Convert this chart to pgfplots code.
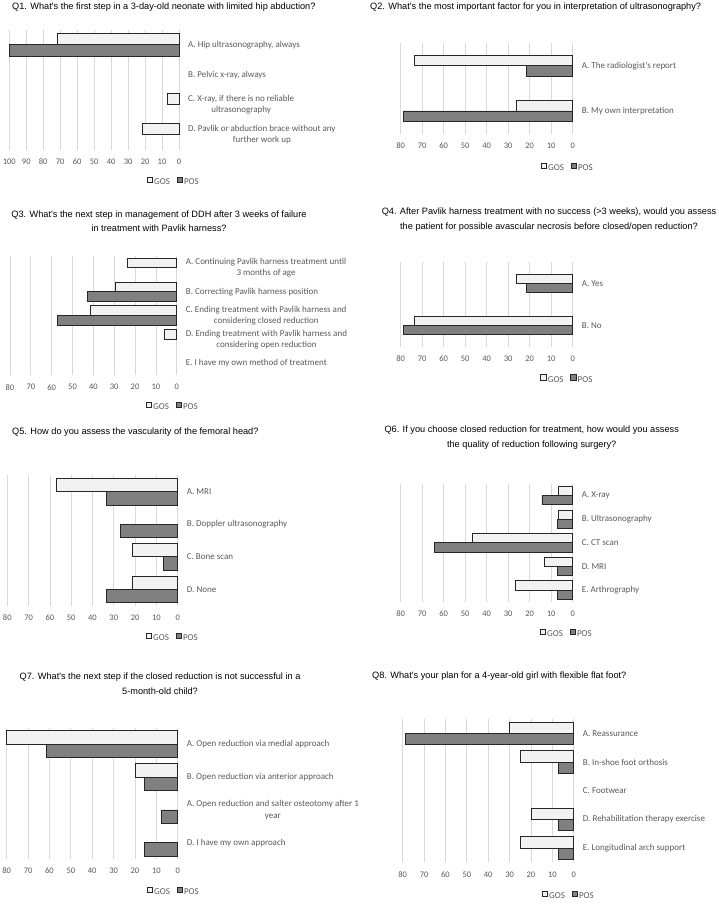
\documentclass[border=0pt]{standalone}
\usepackage{fontspec}
\setmainfont{Carlito}
\newfontfamily\titlefont{Liberation Sans}
\usepackage{pgfplots}
\pgfplotsset{compat=1.18}
\definecolor{gosf}{HTML}{F2F2F2}
\definecolor{posf}{HTML}{808080}
\definecolor{edgec}{HTML}{262626}
\definecolor{gridc}{HTML}{D9D9D9}
\definecolor{lab}{HTML}{595959}
\pgfplotsset{
  qbase/.style={
    scale only axis, xbar, x dir=reverse, xmin=0, xmax=80,
    anchor=south west, clip=false,
    axis line style={draw=none}, tick style={draw=none},
    major tick length=0pt,
    xmajorgrids, grid style={color=gridc, line width=0.7pt},
    xtick={0,10,...,80},
    /pgf/number format/assume math mode=true,
    xticklabel style={font=\fontsize{8.5}{10}\selectfont, text=lab, anchor=center, yshift=-12pt},
    yticklabel pos=right,
    yticklabel style={font=\fontsize{9}{11.5}\selectfont, text=lab, anchor=west, xshift=9pt, inner sep=0pt, align=center},
    legend columns=2,
    legend image code/.code={\draw[##1, line width=0.7pt] (0pt,-0.1pt) rectangle (5.4pt,5.3pt);},
    legend style={draw=none, fill=none, font=\fontsize{9}{10}\selectfont, text=lab, inner sep=0pt, anchor=center,
      nodes={inner sep=0.6pt},
      /tikz/every odd column/.append style={column sep=0.8pt},
      /tikz/every even column/.append style={column sep=6pt}},
  },
  gosbar/.style={fill=gosf, draw=edgec, line width=0.8pt},
  posbar/.style={fill=posf, draw=edgec, line width=0.8pt},
}
\tikzset{qtitle/.style={font=\titlefont\fontsize{9.2}{14.5}\selectfont, text=black, inner sep=0pt}}
\begin{document}
\begin{tikzpicture}
\path[use as bounding box] (0pt,0pt) rectangle (719pt,-904pt);
% ---------- Q1
\node[qtitle, anchor=west] at (12pt,-6.7pt) {Q1. What's the first step in a 3-day-old neonate with limited hip abduction?};
\begin{axis}[qbase, at={(9.3pt,-149.7pt)}, width=169.7pt, height=120pt, xmax=100, xtick={0,10,...,100},
  ymin=-0.5, ymax=3.5, ytick={0,1,2,3},
  yticklabels={{D. Pavlik or abduction brace without any\\further work up},{C. X-ray, if there is no reliable\\ultrasonography},{B. Pelvic x-ray, always},{A. Hip ultrasonography, always}},
  bar width=0.383,
  legend style={at={(axis description cs:1,0)}, xshift=-6pt, yshift=-32.3pt}]
\addplot[gosbar, bar shift=0.1915] coordinates {(71.4,3) (7.1,1) (21.4,0)};
\addplot[posbar, bar shift=-0.1915] coordinates {(100,3)};
\legend{GOS,POS}
\end{axis}
% ---------- Q2
\node[qtitle, anchor=west] at (370pt,-6.7pt) {Q2. What's the most important factor for you in interpretation of ultrasonography?};
\begin{axis}[qbase, at={(400.7pt,-133.65pt)}, width=172pt, height=90.6pt,
  ymin=-0.5, ymax=1.5, ytick={0,1},
  yticklabels={{B. My own interpretation},{A. The radiologist's report}},
  bar width=0.228,
  legend style={at={(axis description cs:1,0)}, xshift=-5.7pt, yshift=-34pt}]
\addplot[gosbar, bar shift=0.114] coordinates {(73.7,1) (26.3,0)};
\addplot[posbar, bar shift=-0.114] coordinates {(21.4,1) (78.6,0)};
\legend{GOS,POS}
\end{axis}
% ---------- Q3
\node[qtitle, align=center] at (159pt,-221pt) {Q3. What's the next step in management of DDH after 3 weeks of failure\\in treatment with Pavlik harness?};
\begin{axis}[qbase, at={(10pt,-375.2pt)}, width=166.7pt, height=119.3pt,
  ymin=-0.5, ymax=4.5, ytick={0,1,2,3,4},
  yticklabels={{E. I have my own method of treatment},{D. Ending treatment with Pavlik harness and\\considering open reduction},{C. Ending treatment with Pavlik harness and\\considering closed reduction},{B. Correcting Pavlik harness position},{A. Continuing Pavlik harness treatment until\\3 months of age}},
  bar width=0.405,
  legend style={at={(axis description cs:1,0)}, xshift=-4.7pt, yshift=-31.5pt}]
\addplot[gosbar, bar shift=0.2025] coordinates {(23.5,4) (29.4,3) (41.2,2) (5.9,1)};
\addplot[posbar, bar shift=-0.2025] coordinates {(42.9,3) (57.1,2)};
\legend{GOS,POS}
\end{axis}
% ---------- Q4
\node[qtitle, align=center] at (549pt,-219.5pt) {Q4. After Pavlik harness treatment with no success (>3 weeks), would you assess\\the patient for possible avascular necrosis before closed/open reduction?};
\begin{axis}[qbase, at={(400.7pt,-346.9pt)}, width=172pt, height=84.8pt,
  ymin=-0.5, ymax=1.5, ytick={0,1},
  yticklabels={{B. No},{A. Yes}},
  bar width=0.215,
  legend style={at={(axis description cs:1,0)}, xshift=-6pt, yshift=-32.4pt}]
\addplot[gosbar, bar shift=0.1075] coordinates {(26.3,1) (73.7,0)};
\addplot[posbar, bar shift=-0.1075] coordinates {(21.4,1) (78.6,0)};
\legend{GOS,POS}
\end{axis}
% ---------- Q5
\node[qtitle, anchor=west] at (12pt,-431.7pt) {Q5. How do you assess the vascularity of the femoral head?};
\begin{axis}[qbase, at={(7.3pt,-605.6pt)}, width=170.4pt, height=130.2pt,
  ymin=-0.5, ymax=3.5, ytick={0,1,2,3},
  yticklabels={{D. None},{C. Bone scan},{B. Doppler ultrasonography},{A. MRI}},
  bar width=0.41,
  legend style={at={(axis description cs:1,0)}, xshift=-5.7pt, yshift=-32.4pt}]
\addplot[gosbar, bar shift=0.205] coordinates {(57.1,3) (21.4,1) (21.4,0)};
\addplot[posbar, bar shift=-0.205] coordinates {(33.3,3) (26.7,2) (6.7,1) (33.3,0)};
\legend{GOS,POS}
\end{axis}
% ---------- Q6
\node[qtitle, align=center] at (531.7pt,-437.5pt) {Q6. If you choose closed reduction for treatment, how would you assess\\the quality of reduction following surgery?};
\begin{axis}[qbase, at={(400.7pt,-601.8pt)}, width=172pt, height=117.9pt,
  ymin=-0.5, ymax=4.5, ytick={0,1,2,3,4},
  yticklabels={{E. Arthrography},{D. MRI},{C. CT scan},{B. Ultrasonography},{A. X-ray}},
  bar width=0.39,
  legend style={at={(axis description cs:1,0)}, xshift=-6.7pt, yshift=-32.2pt}]
\addplot[gosbar, bar shift=0.195] coordinates {(6.7,4) (6.7,3) (46.7,2) (13.3,1) (26.7,0)};
\addplot[posbar, bar shift=-0.195] coordinates {(14.3,4) (7.1,3) (64.3,2) (7.1,1) (7.1,0)};
\legend{GOS,POS}
\end{axis}
% ---------- Q7
\node[qtitle, align=center] at (160pt,-683.5pt) {Q7. What's the next step if the closed reduction is not successful in a\\5-month-old child?};
\begin{axis}[qbase, at={(6.7pt,-859.1pt)}, width=171pt, height=131.2pt,
  ymin=-0.5, ymax=3.5, ytick={0,1,2,3},
  yticklabels={{D. I have my own approach},{A. Open reduction and salter osteotomy after 1\\year},{B. Open reduction via anterior approach},{A. Open reduction via medial approach}},
  bar width=0.41,
  legend style={at={(axis description cs:1,0)}, xshift=-4.7pt, yshift=-32.6pt}]
\addplot[gosbar, bar shift=0.205] coordinates {(80,3) (20,2)};
\addplot[posbar, bar shift=-0.205] coordinates {(61.5,3) (15.4,2) (7.7,1) (15.4,0)};
\legend{GOS,POS}
\end{axis}
% ---------- Q8
\node[qtitle, anchor=west] at (372pt,-676pt) {Q8. What's your plan for a 4-year-old girl with flexible flat foot?};
\begin{axis}[qbase, at={(402.7pt,-862.4pt)}, width=171pt, height=143.4pt,
  ymin=-0.5, ymax=4.5, ytick={0,1,2,3,4},
  yticklabels={{E. Longitudinal arch support},{D. Rehabilitation therapy exercise},{C. Footwear},{B. In-shoe foot orthosis},{A. Reassurance}},
  bar width=0.39,
  legend style={at={(axis description cs:1,0)}, xshift=-5.7pt, yshift=-33.3pt}]
\addplot[gosbar, bar shift=0.195] coordinates {(30,4) (25,3) (20,1) (25,0)};
\addplot[posbar, bar shift=-0.195] coordinates {(78.6,4) (7.1,3) (7.1,1) (7.1,0)};
\legend{GOS,POS}
\end{axis}
\end{tikzpicture}
\end{document}
